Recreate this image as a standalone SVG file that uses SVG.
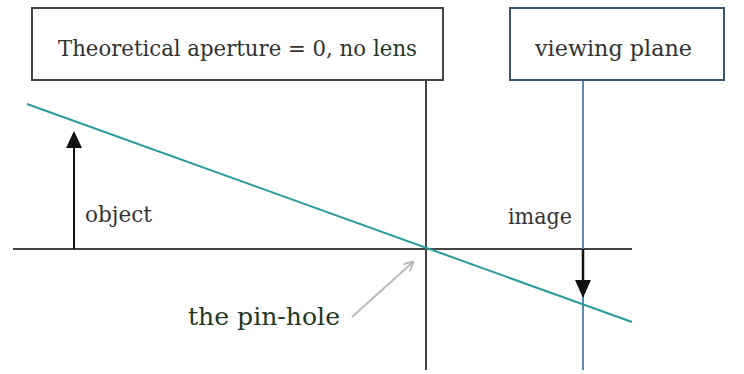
<svg xmlns="http://www.w3.org/2000/svg" width="744" height="374" viewBox="0 0 744 374">
<style>
text{font-family:"DejaVu Serif","Liberation Serif",serif;font-size:22px;fill:#333}
.ax{stroke:#444;stroke-width:2;fill:none}
</style>
<defs>
<marker id="ga" markerWidth="10" markerHeight="10" refX="9" refY="5" orient="auto" markerUnits="userSpaceOnUse" viewBox="0 0 10 10"><path d="M0,0 L10,5 L0,10" fill="none" stroke="#bbb" stroke-width="2"/></marker>
</defs>
<rect width="744" height="374" fill="#fff"/>
<g id="connectors">
<line class="ax" x1="13" y1="249" x2="632" y2="249"/>
<line class="ax" x1="426" y1="80" x2="426" y2="370"/>
<line x1="583" y1="80" x2="583" y2="370" stroke="#5b8ab5" stroke-width="2"/>
<line x1="27" y1="104" x2="632" y2="322" stroke="#2a9a9a" stroke-width="2"/>
<line x1="74" y1="249" x2="74" y2="146" stroke="#111" stroke-width="2"/>
<path d="M66,148 L74,131 L82,148 z" fill="#111"/>
<line x1="583" y1="249" x2="583" y2="282" stroke="#111" stroke-width="2.5"/>
<path d="M575,280 L583,298 L591,280 z" fill="#111"/>
<line x1="352" y1="317" x2="413" y2="262" stroke="#bbb" stroke-width="2" marker-end="url(#ga)"/>
</g>
<g id="aperture">
<rect x="32" y="8" width="411" height="72" fill="#fff" stroke="#444" stroke-width="2"/>
<text x="58" y="56" textLength="308" lengthAdjust="spacingAndGlyphs">Theoretical aperture = 0, no</text>
<text x="373" y="56" textLength="44" lengthAdjust="spacingAndGlyphs" style="fill:#1f3a1f">lens</text>
</g>
<g id="viewing-plane">
<rect x="510" y="8" width="214" height="72" fill="#fff" stroke="#3d5670" stroke-width="2"/>
<text x="535" y="56" textLength="157" lengthAdjust="spacingAndGlyphs">viewing plane</text>
</g>
<g id="object"><text x="85" y="222" textLength="67" lengthAdjust="spacingAndGlyphs">object</text></g>
<g id="image"><text x="508" y="224" textLength="64" lengthAdjust="spacingAndGlyphs">image</text></g>
<g id="pinhole"><text x="188" y="325" style="fill:#1f3a1f;font-size:24px" textLength="152" lengthAdjust="spacingAndGlyphs">the pin-hole</text></g>
</svg>
